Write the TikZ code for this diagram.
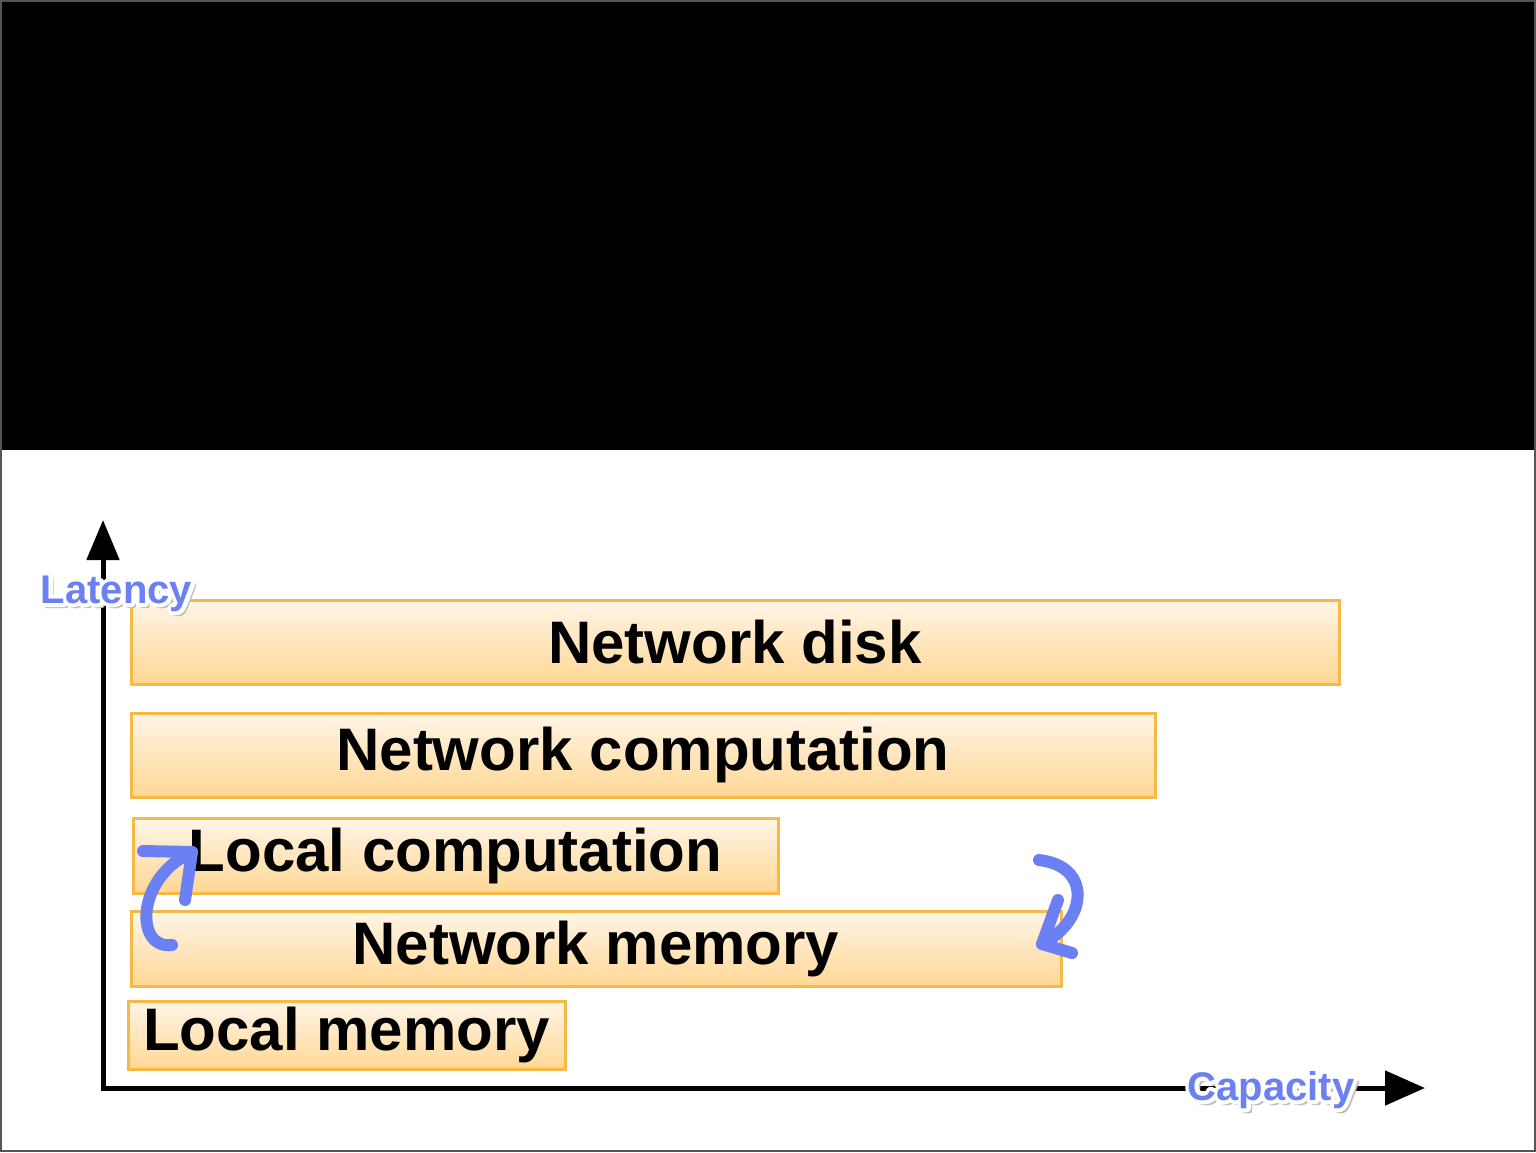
\documentclass[tikz,border=0pt]{standalone}
\usepackage{fontspec}
\setmainfont{Liberation Sans}
\usetikzlibrary{arrows.meta}
\definecolor{boxtop}{HTML}{FFF5E8}
\definecolor{boxbot}{HTML}{FFD794}
\definecolor{boxline}{HTML}{F6B945}
\definecolor{inkblue}{HTML}{6B80F2}
\definecolor{framegray}{HTML}{555555}
\definecolor{shadowgray}{HTML}{BDBDBD}
% outlined text: stroke only, white, wide
\newcommand{\haloText}[1]{\special{pdf:literal direct q 1 Tr 1 1 1 RG 4 w 1 j 1 J}#1\special{pdf:literal direct Q}}
\newcommand{\shadeText}[1]{\special{pdf:literal direct q 2 Tr 0.74 0.74 0.74 RG 2 w 1 j 1 J}#1\special{pdf:literal direct Q}}
\begin{document}
\begin{tikzpicture}[x=0.5pt,y=-0.5pt,
  bar/.style={draw=boxline, line width=1.5pt, top color=boxtop, bottom color=boxbot,
    inner sep=0pt, font=\fontsize{30}{36}\selectfont\bfseries, text=black},
  ink/.style={draw=inkblue, line width=6pt, line cap=round, line join=round},
  axis/.style={line width=2.5pt, draw=black},
  lab/.style={font=\fontsize{20}{24}\selectfont\bfseries, inner sep=0pt, anchor=base}]

\useasboundingbox (0,0) rectangle (1536,1152);
\fill[white] (0,0) rectangle (1536,1152);
\fill[black] (0,0) rectangle (1536,450);
\draw[framegray, line width=1pt] (1,1) rectangle (1535,1151);

% axes
\coordinate (O) at (103,1088);
\coordinate (ytip) at (103,520);
\coordinate (xtip) at (1425,1088);
\draw[axis, line join=miter, {Triangle[length=20pt,width=16pt]}-{Triangle[length=20pt,width=17pt]}] (ytip) -- (O) -- (xtip);

% bars
\node[bar, minimum width=604pt, minimum height=42pt] (disk) at (735,642) {Network disk};
\node[bar, minimum width=512pt, minimum height=42pt] (ncomp) at (643,755) {Network computation};
\node[bar, minimum width=322.5pt, minimum height=37.5pt] (lcomp) at (455.5,855.5) {Local computation};
\node[bar, minimum width=465pt, minimum height=37.5pt] (nmem) at (596,948.5) {Network memory};
\node[bar, minimum width=218.5pt, minimum height=34pt] (lmem) at (346.5,1035) {Local memory};

% hand-drawn arrows
\coordinate (la1) at (172,945);
\coordinate (la2) at (192,852);
\coordinate (lb1) at (143,851);
\coordinate (lb2) at (185,900);
\draw[ink] (la1) .. controls (135,950) and (135,878) .. (la2);
\draw[ink] (lb1) -- (la2) -- (lb2);

\coordinate (ra1) at (1039,860);
\coordinate (ra2) at (1042,944);
\coordinate (rb1) at (1058,900);
\coordinate (rb2) at (1072,953);
\draw[ink] (ra1) .. controls (1092,866) and (1088,920) .. (ra2);
\draw[ink] (rb1) -- (ra2) -- (rb2);

% axis labels: shadow, white halo, blue text
\node[lab, text=shadowgray] (latsh) at (119,606) {\shadeText{Latency}};
\node[lab, text=white] (latgl) at (116.5,603) {\haloText{Latency}};
\node[lab, text=inkblue] (lat) at (116.5,603) {Latency};

\node[lab, text=shadowgray] (capsh) at (1274,1103) {\shadeText{Capacity}};
\node[lab, text=white] (capgl) at (1271,1100) {\haloText{Capacity}};
\node[lab, text=inkblue] (cap) at (1271,1100) {Capacity};
\end{tikzpicture}
\end{document}
